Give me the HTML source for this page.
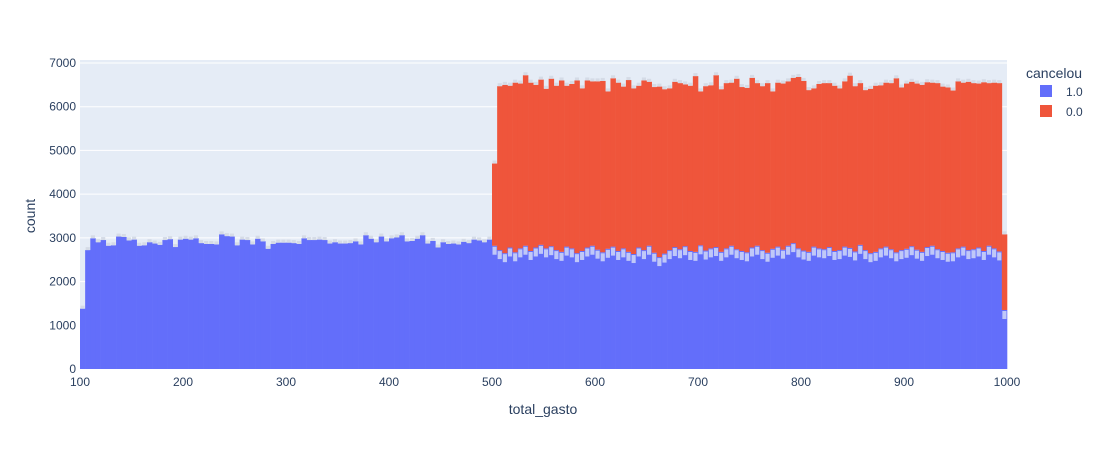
<!DOCTYPE html>
<html><head><meta charset="utf-8"><style>
body{margin:0;background:#fff;font-family:"Liberation Sans",sans-serif}
svg text{font-family:"Liberation Sans",sans-serif;fill:#2a3f5f}
</style></head><body>
<svg id="c" width="1104" height="450">
<rect x="80" y="60" width="927" height="309" fill="#e5ecf6"/>
<g id="grid"></g><g id="bars"></g><g id="ticks"></g>
<text x="543" y="414" font-size="14" text-anchor="middle">total_gasto</text>
<text x="0" y="0" font-size="14" text-anchor="middle" transform="translate(35,216) rotate(-90)">count</text>
<text x="1026" y="78" font-size="14">cancelou</text>
<g><rect x="1040" y="85" width="12" height="12" fill="#636efa"/><text x="1066" y="96" font-size="12">1.0</text></g>
<g><rect x="1040" y="105" width="12" height="12" fill="#ef553b"/><text x="1066" y="116" font-size="12">0.0</text></g>
</svg>
<script>
const binStart=100, binWidth=5;
const xTicks=[100,200,300,400,500,600,700,800,900,1000];
const yTicks=[0,1000,2000,3000,4000,5000,6000,7000];
const blue=[1380,2720,2990,2900,2950,2820,2830,3030,3020,2940,2960,2820,2830,2900,2870,2840,2950,2970,2790,2960,2980,2960,2990,2880,2860,2860,2850,3080,3040,3030,2830,2960,2950,2850,2980,2920,2750,2860,2890,2890,
2890,2880,2860,2990,2950,2950,2960,2950,2870,2900,2870,2870,2880,2920,2850,3060,2980,2900,3030,2920,2990,3010,3060,2920,2930,2980,3060,2870,2930,2780,2900,2860,2870,2850,2910,2880,2960,2940,2900,2960,
2820,2720,2650,2780,2670,2760,2820,2700,2780,2840,2760,2810,2720,2680,2800,2760,2650,2700,2780,2820,2730,2670,2750,2800,2700,2760,2680,2630,2780,2720,2820,2660,2560,2640,2720,2790,2740,2810,2700,2680,
2830,2710,2760,2790,2680,2760,2820,2740,2700,2670,2780,2820,2720,2660,2750,2800,2730,2820,2880,2760,2710,2680,2800,2760,2740,2790,2700,2720,2800,2770,2690,2840,2720,2650,2680,2760,2800,2740,2670,2720,
2750,2810,2730,2680,2790,2820,2740,2700,2660,2670,2760,2800,2720,2740,2780,2700,2820,2760,2690,1350];
const red=[0,0,0,0,0,0,0,0,0,0,0,0,0,0,0,0,0,0,0,0,0,0,0,0,0,0,0,0,0,0,0,0,0,0,0,0,0,0,0,0,
0,0,0,0,0,0,0,0,0,0,0,0,0,0,0,0,0,0,0,0,0,0,0,0,0,0,0,0,0,0,0,0,0,0,0,0,0,0,0,0,
1880,3750,3850,3700,3880,3770,3900,3850,3720,3780,3650,3830,3760,3920,3680,3760,3950,3720,3820,3760,3850,3920,3600,3850,3850,3700,3930,3790,3700,3880,3750,3790,3900,3760,3700,3780,3800,3700,3780,4020,
3520,3760,3730,3930,3720,3780,3730,3900,3750,3760,3880,3720,3750,3880,3600,3750,3800,3760,3780,3920,3880,3700,3620,3760,3800,3750,3780,3700,3780,3940,3780,3700,3660,3760,3800,3730,3750,3800,3980,3720,
3780,3760,3800,3820,3770,3730,3800,3760,3780,3700,3820,3750,3850,3800,3750,3860,3720,3790,3850,1730];
const X0=80,X1=1007,Y0=369,Y1=63;
const xs=v=>X0+(v-100)/900*(X1-X0);
const ys=v=>Y0-v/7000*(Y0-Y1);
const NS='http://www.w3.org/2000/svg';
function mk(t,a,p){const e=document.createElementNS(NS,t);for(const k in a)e.setAttribute(k,a[k]);p.appendChild(e);return e;}
const grid=document.getElementById('grid'),bars=document.getElementById('bars'),ticks=document.getElementById('ticks');
yTicks.forEach(v=>{
 if(v>0){const l=mk('line',{x1:X0,x2:X1,y1:ys(v),y2:ys(v),stroke:'#fff','stroke-width':1},grid);
 
 }
 const t=mk('text',{x:X0-4,y:ys(v)+4,'font-size':12,'text-anchor':'end'},ticks);t.textContent=v;
 
 
});
xTicks.forEach(v=>{
 const t=mk('text',{x:xs(v),y:Y0+17,'font-size':12,'text-anchor':'middle'},ticks);t.textContent=v;
 
 
});
blue.forEach((b,i)=>{
 const x=xs(binStart+i*binWidth),w=xs(binStart+(i+1)*binWidth)-x;
 const r=red[i]||0;
 const rb=mk('rect',{x:x,y:ys(b),width:w+0.3,height:Y0-ys(b),fill:'#636efa'},bars);
 
 
 const lb=mk('rect',{x:x+0.5,y:ys(b)-(r>0?-1:3),width:w-1,height:r>0?8:3,fill:r>0?'#c0c8f8':'#d5dbe6'},bars);
 
 
 if(r>0){
  const rr=mk('rect',{x:x,y:ys(b+r),width:w+0.3,height:ys(b)-ys(b+r),fill:'#ef553b'},bars);
  
  
  const lr=mk('rect',{x:x+0.5,y:ys(b+r)-3,width:w-1,height:3,fill:'#d5dbe6'},bars);
  
  
 }
});
</script>
</body></html>
